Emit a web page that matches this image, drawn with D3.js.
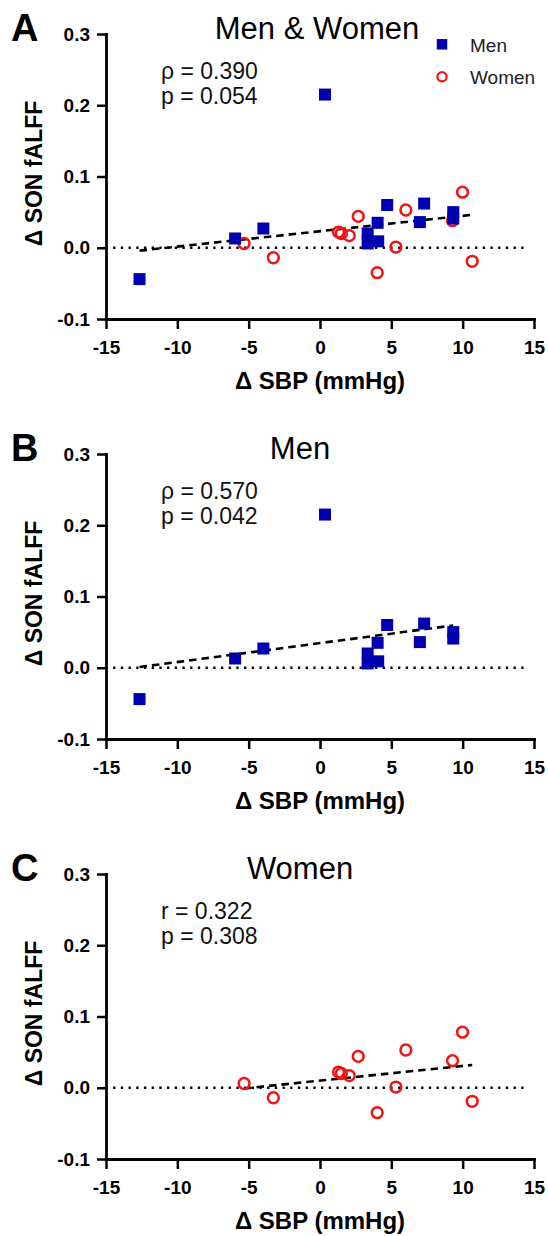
<!DOCTYPE html>
<html>
<head>
<meta charset="utf-8">
<script src="https://cdn.jsdelivr.net/npm/d3@7"></script>
<style>
  body { margin: 0; background: #fff; }
  svg { display: block; font-family: "Liberation Sans", Arial, sans-serif; }
</style>
</head>
<body>
<div id="chart"></div>
<script>
// data
const menSBP = [-12.65, -5.95, -3.97, 0.35, 3.34, 3.34, 4.08, 4.04, 4.71, 7.0, 7.3, 9.34, 9.34];
const menFALFF = [-0.044, 0.013, 0.027, 0.215, 0.020, 0.006, 0.009, 0.035, 0.060, 0.036, 0.062, 0.050, 0.041];
const womenSBP = [-5.32, -3.27, 1.3, 1.5, 2.05, 2.68, 4.01, 5.32, 6.02, 9.29, 9.99, 10.67];
const womenFALFF = [0.006, -0.014, 0.022, 0.020, 0.017, 0.044, -0.035, 0.001, 0.053, 0.038, 0.078, -0.019];

const xTicks = [-15, -10, -5, 0, 5, 10, 15];
const yTicks = [-0.1, 0.0, 0.1, 0.2, 0.3];
const panelLetters = ['A', 'B', 'C'];
const panelTitles = ['Men & Women', 'Men', 'Women'];
const panelStats = [['ρ = 0.390', 'p = 0.054'], ['ρ = 0.570', 'p = 0.042'], ['r = 0.322', 'p = 0.308']];
const panelGroups = [['men', 'women'], ['men'], ['women']];
const legendLabels = ['Men', 'Women'];

const groups = {
  men: menSBP.map((x, i) => ({ x, y: menFALFF[i] })),
  women: womenSBP.map((x, i) => ({ x, y: womenFALFF[i] }))
};

const BLUE = '#0000b0';
const RED = '#f01414';

const svg = d3.select('#chart').append('svg')
  .attr('width', 548)
  .attr('height', 1236);

const x = d3.scaleLinear().domain([-15, 15]).range([106, 534]);
const plotH = 285;
const panelTop = [34, 454, 874];
const titleX = [317, 300, 300];

// least squares fit
const fit = pts => {
  const mx = d3.mean(pts, d => d.x), my = d3.mean(pts, d => d.y);
  const sxy = d3.sum(pts, d => (d.x - mx) * (d.y - my));
  const sxx = d3.sum(pts, d => (d.x - mx) ** 2);
  const b = sxy / sxx;
  return { a: my - b * mx, b };
};

panelLetters.forEach((letter, p) => {
  const top = panelTop[p];
  const y = d3.scaleLinear().domain([-0.1, 0.3]).range([top + plotH, top]);
  const g = svg.append('g');

  // axes
  const yAxis = g.append('g')
    .attr('transform', `translate(${x(-15)},0)`)
    .call(d3.axisLeft(y).tickValues(yTicks).tickFormat(d => d.toFixed(1))
      .tickSize(9).tickSizeOuter(0).tickPadding(7));
  const xAxis = g.append('g')
    .attr('transform', `translate(0,${y(-0.1)})`)
    .call(d3.axisBottom(x).tickValues(xTicks).tickFormat(d => String(d))
      .tickSize(10).tickSizeOuter(0).tickPadding(12));
  [yAxis, xAxis].forEach(ax => {
    ax.select('.domain').attr('stroke', '#000').attr('stroke-width', 2.8).attr('stroke-linecap', 'square');
    ax.selectAll('.tick line').attr('stroke', '#000').attr('stroke-width', 2.5);
    ax.selectAll('.tick text')
      .attr('fill', '#000')
      .attr('font-size', 19)
      .attr('font-weight', 'bold')
      .attr('font-family', '"Liberation Sans", Arial, sans-serif');
  });

  // axis titles
  g.append('text')
    .attr('x', (x(-15) + x(15)) / 2)
    .attr('y', y(-0.1) + 70)
    .attr('text-anchor', 'middle')
    .attr('font-size', 24)
    .attr('font-weight', 'bold')
    .text('Δ SBP (mmHg)');
  g.append('text')
    .attr('transform', `translate(42,${(y(0.3) + y(-0.1)) / 2 - 3}) rotate(-90)`)
    .attr('text-anchor', 'middle')
    .attr('font-size', 23)
    .attr('font-weight', 'bold')
    .text('Δ SON fALFF');

  // panel letter and title
  g.append('text')
    .attr('x', 11)
    .attr('y', top + 6.5)
    .attr('font-size', 38)
    .attr('font-weight', 'bold')
    .text(letter);
  g.append('text')
    .attr('x', titleX[p])
    .attr('y', top + 4.5)
    .attr('text-anchor', 'middle')
    .attr('font-size', 31)
    .text(panelTitles[p]);

  // stats
  panelStats[p].forEach((s, i) => {
    g.append('text')
      .attr('x', 161)
      .attr('y', top + 44.5 + i * 25.5)
      .attr('font-size', 23)
      .attr('fill', '#111')
      .text(s);
  });

  // zero reference line
  g.append('line')
    .attr('x1', x(-14.5)).attr('x2', x(14.6))
    .attr('y1', y(0)).attr('y2', y(0))
    .attr('stroke', '#000')
    .attr('stroke-width', 2.3)
    .attr('stroke-dasharray', '2.3,5.4');

  // regression line over pooled points
  const pts = panelGroups[p].flatMap(k => groups[k]);
  const f = fit(pts);
  const [x0, x1] = d3.extent(pts, d => d.x);
  g.append('line')
    .attr('x1', x(x0)).attr('x2', x(x1))
    .attr('y1', y(f.a + f.b * x0)).attr('y2', y(f.a + f.b * x1))
    .attr('stroke', '#000')
    .attr('stroke-width', 2.6)
    .attr('stroke-dasharray', '7.5,5');

  // points: women circles first, men squares on top
  if (panelGroups[p].includes('women')) {
    g.selectAll('circle.w')
      .data(groups.women)
      .join('circle')
      .attr('class', 'w')
      .attr('cx', d => x(d.x))
      .attr('cy', d => y(d.y))
      .attr('r', 5.4)
      .attr('fill', 'none')
      .attr('stroke', RED)
      .attr('stroke-width', 2.5);
  }
  if (panelGroups[p].includes('men')) {
    const s = 12;
    g.selectAll('rect.m')
      .data(groups.men)
      .join('rect')
      .attr('class', 'm')
      .attr('x', d => x(d.x) - s / 2)
      .attr('y', d => y(d.y) - s / 2)
      .attr('width', s)
      .attr('height', s)
      .attr('fill', BLUE);
  }

  // legend only on the pooled panel
  if (p === 0) {
    const lg = g.append('g');
    lg.append('rect')
      .attr('x', 442 - 5.25).attr('y', 44.3 - 5.25)
      .attr('width', 10.5).attr('height', 10.5)
      .attr('fill', BLUE);
    lg.append('circle')
      .attr('cx', 442).attr('cy', 76.7).attr('r', 4.6)
      .attr('fill', 'none').attr('stroke', RED).attr('stroke-width', 2.2);
    legendLabels.forEach((t, i) => {
      lg.append('text')
        .attr('x', 470)
        .attr('y', 51.5 + i * 32)
        .attr('font-size', 19)
        .attr('fill', '#222')
        .text(t);
    });
  }
});
</script>
</body>
</html>
